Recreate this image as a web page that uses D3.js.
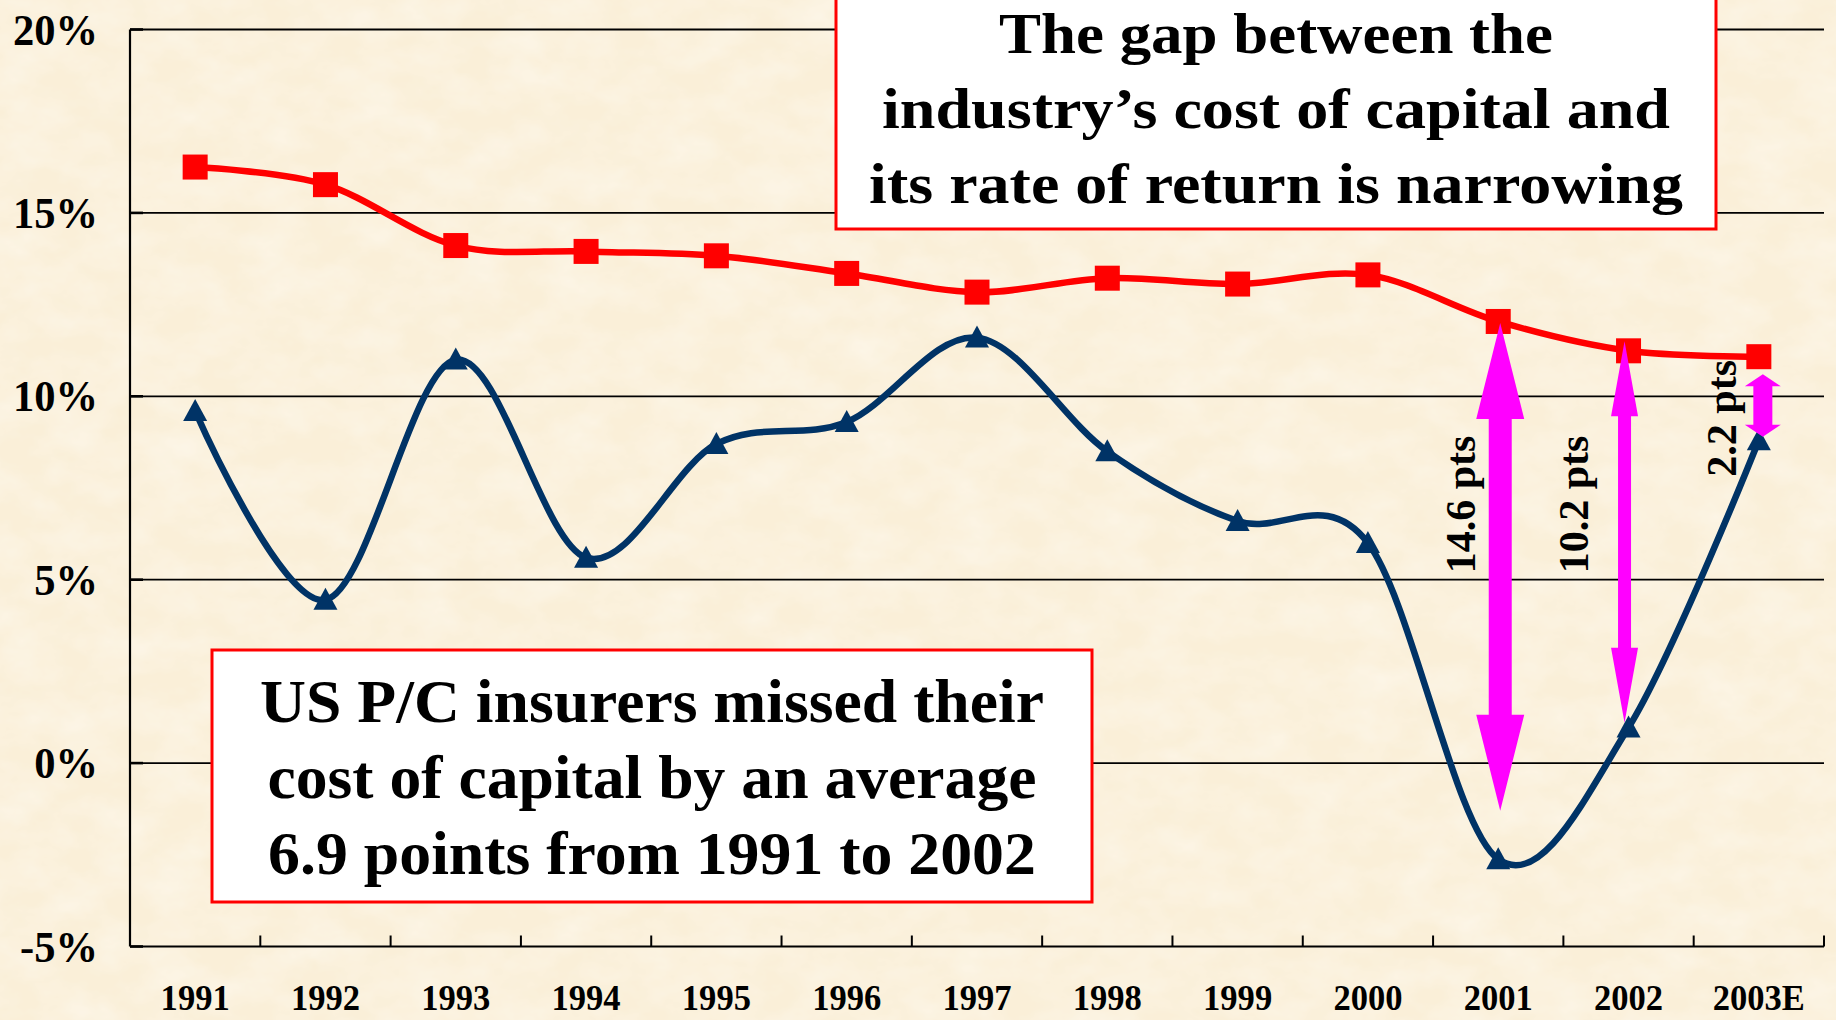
<!DOCTYPE html>
<html>
<head>
<meta charset="utf-8">
<script src="https://cdn.jsdelivr.net/npm/d3@7"></script>
<style>
  html, body { margin: 0; padding: 0; background: #FAF0DA; overflow: hidden; }
  svg { display: block; }
  text { font-family: "Liberation Serif", "Times New Roman", serif; font-weight: bold; fill: #000; }
</style>
</head>
<body>
<svg id="chart" width="1836" height="1020"></svg>
<script>
// ---------------- data ----------------
const years = ["1991","1992","1993","1994","1995","1996","1997","1998","1999","2000","2001","2002","2003E"];
const costOfCapital = [16.25, 15.77, 14.11, 13.95, 13.83, 13.35, 12.84, 13.22, 13.06, 13.31, 12.04, 11.24, 11.08];
const roe = [9.6, 4.45, 11.0, 5.6, 8.7, 9.3, 11.6, 8.5, 6.6, 6.0, -2.62, 0.97, 8.8];
const yTicks = [-5, 0, 5, 10, 15, 20];
const yTickLabels = ["-5%", "0%", "5%", "10%", "15%", "20%"];
// gap annotations: year, arrow top value, arrow bottom value, label, label position value
const gapYears = ["2001", "2002", "2003E"];
const gapTop = [12.0, 11.5, 10.6];
const gapBottom = [-1.3, 1.1, 8.9];
const gapLabels = ["14.6 pts", "10.2 pts", "2.2 pts"];
const gapLabelAt = [7.05, 7.05, 9.4];
const topBoxLines = ["The gap between the", "industry\u2019s cost of capital and", "its rate of return is narrowing"];
const bottomBoxLines = ["US P/C insurers missed their", "cost of capital by an average", "6.9 points from 1991 to 2002"];

// ---------------- setup ----------------
const svg = d3.select("#chart");
const W = 1836, H = 1020;
const x = d3.scaleBand().domain(years).range([130, 1824]);
const y = d3.scaleLinear().domain([-5, 20]).range([946.5, 29.5]);
const cx = d => x(d) + x.bandwidth() / 2;

// background texture
const defs = svg.append("defs");
const f = defs.append("filter").attr("id", "tex").attr("x", 0).attr("y", 0).attr("width", "100%").attr("height", "100%");
f.append("feTurbulence").attr("type", "fractalNoise").attr("baseFrequency", "0.02 0.03").attr("numOctaves", 4).attr("seed", 7);
f.append("feColorMatrix").attr("type", "matrix")
  .attr("values", "0 0 0 0 1  0 0 0 0 0.985  0 0 0 0 0.95  0.7 0 0 0 -0.22");
svg.append("rect").attr("width", W).attr("height", H).attr("fill", "#FAEFD8");
svg.append("rect").attr("width", W).attr("height", H).attr("filter", "url(#tex)");

function fitText(g, str, tx, ty, size, anchor, targetW) {
  const t = g.append("text").attr("font-size", size).attr("text-anchor", anchor).text(str);
  const s = targetW ? targetW / t.node().getComputedTextLength() : 1;
  t.attr("transform", `translate(${tx},${ty}) scale(${s},1)`);
  return t;
}

// gridlines
svg.append("g").selectAll("line").data(yTicks.filter(v => v > -5)).join("line")
  .attr("x1", x.range()[0]).attr("x2", x.range()[1])
  .attr("y1", d => y(d)).attr("y2", d => y(d))
  .attr("stroke", "#000").attr("stroke-width", 1.8);

// x axis
const xAxis = svg.append("g").attr("transform", `translate(0,${y(-5)})`);
xAxis.append("line").attr("x1", x.range()[0]).attr("x2", x.range()[1]).attr("stroke", "#000").attr("stroke-width", 2.2);
const boundaries = years.slice(1).map(d => x(d)).concat([x.range()[1]]);
xAxis.selectAll(".tk").data(boundaries).join("line")
  .attr("x1", d => d).attr("x2", d => d)
  .attr("y1", 0).attr("y2", -11).attr("stroke", "#000").attr("stroke-width", 2);
years.forEach(d => {
  svg.append("text").attr("font-size", 36).attr("text-anchor", "middle")
    .attr("transform", `translate(${cx(d)},1010) scale(0.96,1)`).text(d);
});

// y axis
const yAxis = svg.append("g");
yAxis.append("line").attr("x1", 130).attr("x2", 130).attr("y1", y(20)).attr("y2", y(-5)).attr("stroke", "#000").attr("stroke-width", 2.2);
yAxis.selectAll(".tk").data(yTicks).join("line")
  .attr("x1", 130).attr("x2", 143).attr("y1", d => y(d)).attr("y2", d => y(d))
  .attr("stroke", "#000").attr("stroke-width", 2.6);
yTicks.forEach((v, i) => {
  svg.append("text").attr("font-size", 45).attr("text-anchor", "end")
    .attr("transform", `translate(98,${y(v) + 15}) scale(0.945,1)`).text(yTickLabels[i]);
});

// lines
const line = d3.line().x((d, i) => cx(years[i])).y(d => y(d)).curve(d3.curveCardinal.tension(0));
svg.append("path").attr("d", line(roe)).attr("fill", "none").attr("stroke", "#003366").attr("stroke-width", 6.5).attr("stroke-linejoin", "round");
svg.append("path").attr("d", line(costOfCapital)).attr("fill", "none").attr("stroke", "#FF0000").attr("stroke-width", 6.5).attr("stroke-linejoin", "round");

// markers
svg.append("g").selectAll("path").data(roe).join("path")
  .attr("d", (d, i) => { const px = cx(years[i]), py = y(d); return `M${px},${py - 12}L${px + 12},${py + 10}L${px - 12},${py + 10}Z`; })
  .attr("fill", "#003366");
svg.append("g").selectAll("rect").data(costOfCapital).join("rect")
  .attr("x", (d, i) => cx(years[i]) - 12.5).attr("y", d => y(d) - 12.5)
  .attr("width", 25).attr("height", 25).attr("fill", "#FF0000");

// double arrows
const arrowSpec = [ {shaft: 23, head: 48, len: 96, dx: 2}, {shaft: 13, head: 27, len: 75, dx: -4}, {shaft: 19, head: 36, len: 12, dx: 4} ];
gapYears.forEach((yr, i) => {
  const a = arrowSpec[i];
  const px = cx(yr) + a.dx;
  const t = y(gapTop[i]), b = y(gapBottom[i]);
  const s = a.shaft / 2, h = a.head / 2, L = a.len;
  const d = `M${px},${t} L${px + h},${t + L} L${px + s},${t + L} L${px + s},${b - L} L${px + h},${b - L} L${px},${b}` +
            ` L${px - h},${b - L} L${px - s},${b - L} L${px - s},${t + L} L${px - h},${t + L} Z`;
  svg.append("path").attr("d", d).attr("fill", "#FF00FF");
});
const labelDx = [-23, -41, -23];
gapYears.forEach((yr, i) => {
  svg.append("text").attr("font-size", 42).attr("text-anchor", "middle")
    .attr("transform", `translate(${cx(yr) + labelDx[i]},${y(gapLabelAt[i])}) rotate(-90)`)
    .text(gapLabels[i]);
});

// text boxes
function box(x0, y0, w, h, lines, baselines, widths, size) {
  const g = svg.append("g");
  g.append("rect").attr("x", x0).attr("y", y0).attr("width", w).attr("height", h)
    .attr("fill", "#fff").attr("stroke", "#FF0000").attr("stroke-width", 3);
  lines.forEach((ln, i) => fitText(g, ln, x0 + w / 2, baselines[i], size, "middle", widths[i]));
}
box(836, -4, 880, 233, topBoxLines, [53, 128, 203], [554, 788, 814], 58);
box(212, 650, 880, 252, bottomBoxLines, [722, 798, 874], [784, 769, 768], 62);
</script>
</body>
</html>
